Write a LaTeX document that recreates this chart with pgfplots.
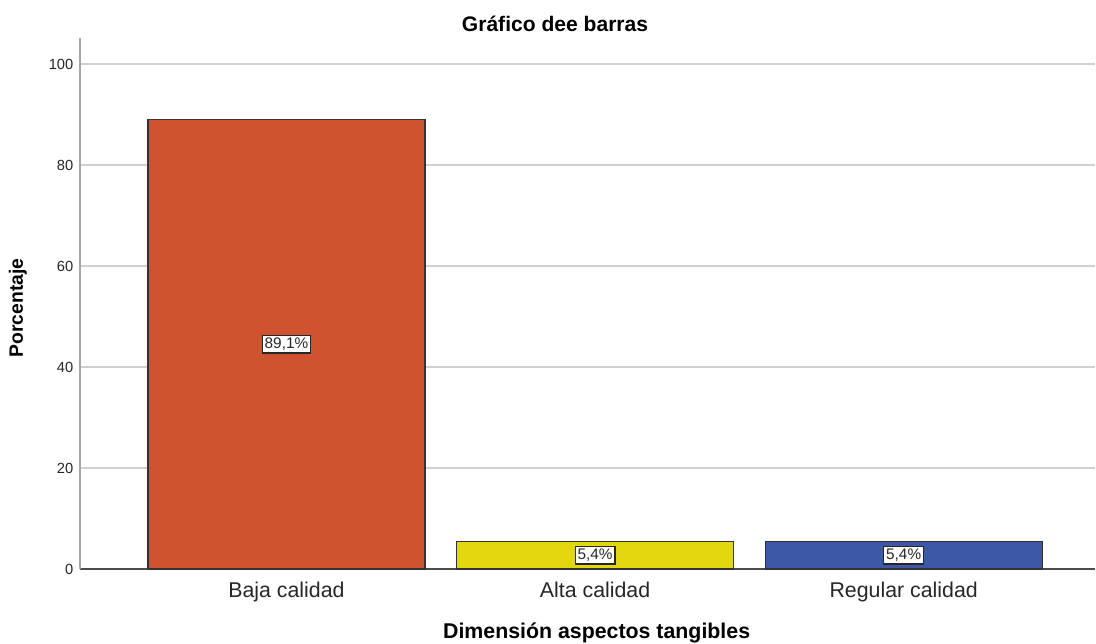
\documentclass[border=0pt]{standalone}
\usepackage{fontspec}
\setmainfont{Liberation Sans}
\usepackage{pgfplots}
\pgfplotsset{compat=1.18}
\usepackage{pgfplotstable}
\definecolor{barred}{HTML}{D0532F}
\definecolor{baryellow}{HTML}{E3D70E}
\definecolor{barblue}{HTML}{3D58A7}
\definecolor{gridgray}{HTML}{D0D0D0}

% porcentaje por categoria (0 = Baja, 1 = Alta, 2 = Regular)
\pgfplotstableread{
x y
0 89.1
1 5.4
2 5.4
}\datos

\begin{document}
\begin{tikzpicture}
\begin{axis}[
    scale only axis,
    width=761.25pt, height=398.25pt,
    xmin=-0.669, xmax=2.62,
    ymin=0, ymax=105.2,
    axis lines*=left,
    x axis line style={draw=black!70, line width=1pt},
    y axis line style={draw=black!35, line width=1.1pt},
    major tick length=0pt,
    xtick={0,1,2},
    xticklabels={Baja calidad, Alta calidad, Regular calidad},
    ytick={0,20,...,100},
    ymajorgrids,
    major grid style={draw=gridgray, line width=1.2pt},
    tick label style={text=black!85},
    xticklabel style={font=\fontsize{16}{18}\selectfont, yshift=-6pt},
    yticklabel style={font=\fontsize{11}{13}\selectfont, xshift=-1.5pt},
    /pgf/number format/assume math mode=true,
    xlabel={Dimensión aspectos tangibles},
    xlabel style={font=\bfseries\fontsize{16}{18}\selectfont, at={(rel axis cs:0.509,-0.1205)}, anchor=center},
    ylabel={Porcentaje},
    ylabel style={font=\bfseries\fontsize{14.5}{16}\selectfont, at={(rel axis cs:-0.0611,0.4915)}, anchor=center, rotate=0},
    clip=false,
]
\addplot[ybar, bar width=207.75pt, bar shift=0pt, fill=barred, draw=black!80, line width=1pt]
    table[x=x, y=y, restrict x to domain=-0.1:0.1] {\datos};
\addplot[ybar, bar width=207.75pt, bar shift=0pt, fill=baryellow, draw=black!80, line width=1pt]
    table[x=x, y=y, restrict x to domain=0.9:1.1] {\datos};
\addplot[ybar, bar width=207.75pt, bar shift=0pt, fill=barblue, draw=black!80, line width=1pt]
    table[x=x, y=y, restrict x to domain=1.9:2.1] {\datos};
% etiquetas a media altura de cada barra
\addplot[draw=none, mark=none, point meta=\thisrow{y},
    nodes near coords={\pgfmathprintnumber[fixed,fixed zerofill,precision=1,use comma,assume math mode=true]{\pgfplotspointmeta}\%},
    every node near coord/.append style={anchor=center, draw=black!85, fill=white, line width=1pt,
        inner sep=1.8pt, font=\fontsize{11.5}{13}\selectfont, text=black!85}]
    table[x=x, y expr=\thisrow{y}/2] {\datos};
\node[font=\bfseries\fontsize{15.8}{18}\selectfont] at (rel axis cs:0.468,1.0264) {Gráfico dee barras};
\end{axis}
\pgfresetboundingbox
\path[use as bounding box] (-60pt,-55.5pt) rectangle (762pt,426.75pt);
\end{tikzpicture}
\end{document}
